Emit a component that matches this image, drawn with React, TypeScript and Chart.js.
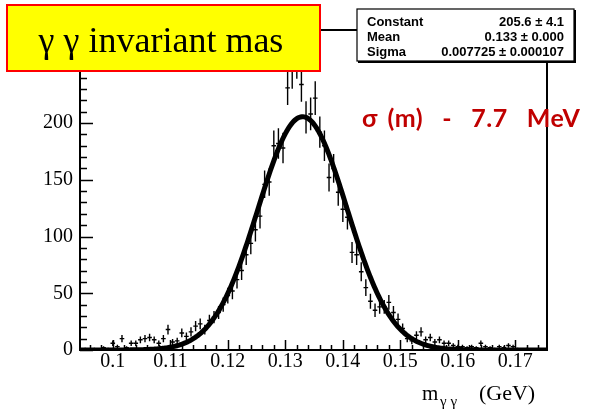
import React, { useEffect, useRef } from "react";
import { Chart, registerables } from "chart.js";

Chart.register(...registerables);

// ---- data ----
const BIN_WIDTH = 0.0008;
const BIN_CENTERS = [
  0.0944, 0.0952, 0.096, 0.0968, 0.0976, 0.0984, 0.0992, 0.1, 0.1008, 0.1016,
  0.1024, 0.1032, 0.104, 0.1048, 0.1056, 0.1064, 0.1072, 0.108, 0.1088, 0.1096,
  0.1104, 0.1112, 0.112, 0.1128, 0.1136, 0.1144, 0.1152, 0.116, 0.1168, 0.1176,
  0.1184, 0.1192, 0.12, 0.1208, 0.1216, 0.1224, 0.1232, 0.124, 0.1248, 0.1256,
  0.1264, 0.1272, 0.128, 0.1288, 0.1296, 0.1304, 0.1312, 0.132, 0.1328, 0.1336,
  0.1344, 0.1352, 0.136, 0.1368, 0.1376, 0.1384, 0.1392, 0.14, 0.1408, 0.1416,
  0.1424, 0.1432, 0.144, 0.1448, 0.1456, 0.1464, 0.1472, 0.148, 0.1488, 0.1496,
  0.1504, 0.1512, 0.152, 0.1528, 0.1536, 0.1544, 0.1552, 0.156, 0.1568, 0.1576,
  0.1584, 0.1592, 0.16, 0.1608, 0.1616, 0.1624, 0.1632, 0.164, 0.1648, 0.1656,
  0.1664, 0.1672, 0.168, 0.1688, 0.1696, 0.1704, 0.1712, 0.172, 0.1728, 0.1736,
  0.1744, 0.1752,
];
const COUNTS = [
  0, 1, 0, 1, 0, 2, 1, 6, 3, 10,
  2, 6, 6, 9, 10, 11, 9, 6, 10, 18,
  7, 8, 15, 12, 16, 21, 23, 18, 26, 29,
  33, 40, 48, 52, 62, 70, 84, 94, 106, 118,
  146, 148, 180, 182, 178, 231, 246, 255, 234, 205,
  208, 222, 192, 180, 152, 160, 139, 124, 117, 86,
  84, 69, 55, 43, 35, 38, 38, 42, 33, 27,
  19, 10, 8, 13, 16, 9, 11, 7, 9, 6,
  6, 4, 3, 3, 2, 3, 2, 6, 3, 2,
  1, 3, 2, 4, 3, 1, 0, 1, 0, 0,
  0, 0,
];

// fit result shown in the stats box
const FIT_CONSTANT = 205.6;
const FIT_MEAN = 0.133;
const FIT_SIGMA = 0.007725;

const X_MIN = 0.0943;
const X_MAX = 0.1755;
const Y_MIN = 0;
const Y_MAX = 282;

const X_TICKS = [0.1, 0.11, 0.12, 0.13, 0.14, 0.15, 0.16, 0.17];
const X_TICK_LABELS = ["0.1", "0.11", "0.12", "0.13", "0.14", "0.15", "0.16", "0.17"];
const X_MINOR_STEP = 0.002;
const Y_TICKS = [0, 50, 100, 150, 200, 250];
const Y_TICK_LABELS = ["0", "50", "100", "150", "200", "250"];
const Y_MINOR_STEP = 10;

const TITLE = "γ γ invariant mas";
const STATS_NAMES = ["Constant", "Mean", "Sigma"];
const STATS_VALUES = ["205.6 ± 4.1", "0.133 ± 0.000", "0.007725 ± 0.000107"];
const ANNOTATION = "σ (m)  -  7.7  MeV";
const X_TITLE_MAIN = "m";
const X_TITLE_SUB = "γ γ";
const X_TITLE_UNIT = "(GeV)";

const SERIF = "'Liberation Serif', 'DejaVu Serif', serif";
const SANS = "'Liberation Sans', Arial, sans-serif";

function gauss(x: number) {
  const t = (x - FIT_MEAN) / FIT_SIGMA;
  return FIT_CONSTANT * Math.exp(-0.5 * t * t);
}

const decorPlugin = {
  id: "decor",
  beforeDatasetsDraw(chart: any) {
    const { ctx, chartArea: a } = chart;
    const xs = chart.scales.x;
    const ys = chart.scales.y;
    ctx.save();
    ctx.beginPath();
    ctx.rect(a.left, a.top, a.right - a.left, a.bottom - a.top);
    ctx.clip();
    ctx.strokeStyle = "#000";
    ctx.lineWidth = 1.4;
    BIN_CENTERS.forEach((c, i) => {
      const v = COUNTS[i];
      if (v <= 0) return;
      const e = Math.sqrt(v);
      const px = xs.getPixelForValue(c);
      const py = ys.getPixelForValue(v);
      ctx.beginPath();
      ctx.moveTo(px, ys.getPixelForValue(v + e));
      ctx.lineTo(px, ys.getPixelForValue(Math.max(0, v - e)));
      ctx.moveTo(xs.getPixelForValue(c - BIN_WIDTH / 2), py);
      ctx.lineTo(xs.getPixelForValue(c + BIN_WIDTH / 2), py);
      ctx.stroke();
    });
    ctx.restore();
  },
  afterDraw(chart: any) {
    const { ctx, chartArea: a } = chart;
    const xs = chart.scales.x;
    const ys = chart.scales.y;
    ctx.save();
    ctx.strokeStyle = "#000";
    // ticks (inward)
    ctx.lineWidth = 1.5;
    ctx.beginPath();
    for (let v = Y_MIN; v <= Y_MAX + 1e-9; v += Y_MINOR_STEP) {
      const py = Math.round(ys.getPixelForValue(v)) + 0.5;
      const major = Y_TICKS.some((t) => Math.abs(t - v) < 1e-6);
      ctx.moveTo(a.left, py);
      ctx.lineTo(a.left + (major ? 13 : 7), py);
    }
    const start = Math.ceil(X_MIN / X_MINOR_STEP - 1e-6) * X_MINOR_STEP;
    for (let k = 0; start + k * X_MINOR_STEP <= X_MAX; k++) {
      const v = start + k * X_MINOR_STEP;
      const px = Math.round(xs.getPixelForValue(v)) + 0.5;
      const major = X_TICKS.some((t) => Math.abs(t - v) < 1e-6);
      ctx.moveTo(px, a.bottom);
      ctx.lineTo(px, a.bottom - (major ? 10 : 5));
    }
    ctx.stroke();
    // frame
    ctx.lineWidth = 2;
    ctx.strokeRect(a.left, a.top, a.right - a.left, a.bottom - a.top);

    // x axis title
    ctx.fillStyle = "#000";
    ctx.textBaseline = "alphabetic";
    ctx.textAlign = "left";
    ctx.font = `21px ${SERIF}`;
    ctx.fillText(X_TITLE_MAIN, 422, 400);
    ctx.font = `15px ${SERIF}`;
    ctx.fillText(X_TITLE_SUB, 440, 406);
    ctx.font = `22px ${SERIF}`;
    ctx.fillText(X_TITLE_UNIT, 479, 400);

    // title box
    ctx.fillStyle = "#ffff00";
    ctx.fillRect(7, 5, 313, 66);
    ctx.strokeStyle = "#ff0000";
    ctx.lineWidth = 2;
    ctx.strokeRect(7, 5, 313, 66);
    ctx.fillStyle = "#000";
    ctx.font = `36px ${SERIF}`;
    ctx.textAlign = "center";
    ctx.fillText(TITLE, 161, 52);

    // stats box
    ctx.fillStyle = "#fff";
    ctx.fillRect(357, 9, 217, 52);
    ctx.strokeStyle = "#000";
    ctx.lineWidth = 1.2;
    ctx.strokeRect(357, 9, 217, 52);
    ctx.lineWidth = 2;
    ctx.beginPath();
    ctx.moveTo(575, 10);
    ctx.lineTo(575, 62);
    ctx.lineTo(358, 62);
    ctx.stroke();
    ctx.fillStyle = "#000";
    ctx.font = `bold 13px ${SANS}`;
    STATS_NAMES.forEach((n, i) => {
      const by = 26 + i * 15.2;
      ctx.textAlign = "left";
      ctx.fillText(n, 367, by);
      ctx.textAlign = "right";
      ctx.fillText(STATS_VALUES[i], 564, by);
    });

    // annotation
    ctx.fillStyle = "#c00000";
    ctx.textAlign = "left";
    ctx.font = `bold 25px Lato, 'Open Sans', sans-serif`;
    (ctx as any).letterSpacing = "0.5px";
    (ctx as any).wordSpacing = "3px";
    ctx.fillText(ANNOTATION, 362, 127);
    ctx.restore();
  },
};

export default function App() {
  const ref = useRef<HTMLCanvasElement | null>(null);
  useEffect(() => {
    if (!ref.current) return;
    const fitPoints: { x: number; y: number }[] = [];
    const n = 400;
    for (let i = 0; i <= n; i++) {
      const x = X_MIN + ((X_MAX - X_MIN) * i) / n;
      fitPoints.push({ x, y: gauss(x) });
    }
    const chart = new Chart(ref.current, {
      type: "scatter",
      data: {
        datasets: [
          {
            type: "line",
            label: "fit",
            data: fitPoints,
            borderColor: "#000",
            borderWidth: 5,
            pointRadius: 0,
            tension: 0,
            fill: false,
            order: 0,
          } as any,
          {
            type: "scatter",
            label: "data",
            data: BIN_CENTERS.map((c, i) => ({ x: c, y: COUNTS[i] })),
            pointRadius: 0,
            order: 1,
          },
        ],
      },
      options: {
        animation: false,
        responsive: false,
        events: [],
        layout: { padding: { left: 8, top: 30, right: 48, bottom: 0 } },
        plugins: { legend: { display: false }, tooltip: { enabled: false } },
        scales: {
          x: {
            type: "linear",
            min: X_MIN,
            max: X_MAX,
            afterBuildTicks: (s: any) => {
              s.ticks = X_TICKS.map((v) => ({ value: v }));
            },
            afterFit: (s: any) => {
              s.height = 62;
            },
            grid: { display: false, drawTicks: false },
            border: { display: false },
            ticks: {
              autoSkip: false,
              maxRotation: 0,
              padding: 0,
              color: "#000",
              font: { family: SERIF, size: 20 },
              callback: (_v: any, i: number) => X_TICK_LABELS[i],
            },
          },
          y: {
            type: "linear",
            min: Y_MIN,
            max: Y_MAX,
            afterBuildTicks: (s: any) => {
              s.ticks = Y_TICKS.map((v) => ({ value: v }));
            },
            afterFit: (s: any) => {
              s.width = 72;
            },
            grid: { display: false, drawTicks: false },
            border: { display: false },
            ticks: {
              autoSkip: false,
              padding: 7,
              color: "#000",
              font: { family: SERIF, size: 20 },
              callback: (_v: any, i: number) => Y_TICK_LABELS[i],
            },
          },
        },
      },
      plugins: [decorPlugin],
    });
    return () => chart.destroy();
  }, []);
  return (
    <div style={{ position: "absolute", left: 0, top: 0, width: 595, height: 412, background: "#fff" }}>
      <canvas ref={ref} width={595} height={412} style={{ width: 595, height: 412, display: "block" }} />
    </div>
  );
}
